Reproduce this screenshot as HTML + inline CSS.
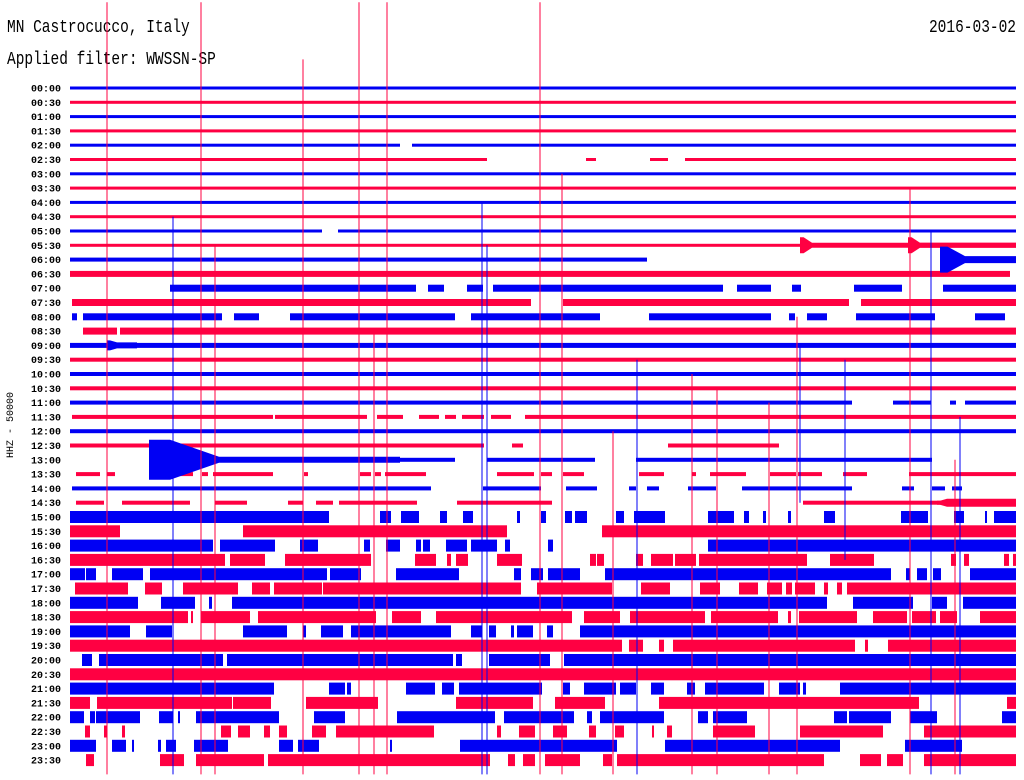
<!DOCTYPE html>
<html><head><meta charset="utf-8">
<style>
html,body{margin:0;padding:0;background:#fff;}
#wrap{position:relative;width:1024px;height:780px;overflow:hidden;background:#fff;}
.t{position:absolute;font-family:"Liberation Mono",monospace;color:#000;white-space:nowrap;}
</style></head><body>
<div id="wrap">
<div class="t" style="left:7px;top:18px;font-size:14.5px;transform:scaleY(1.25);transform-origin:0 0;">MN Castrocucco, Italy</div>
<div class="t" style="left:7px;top:50px;font-size:14.5px;transform:scaleY(1.25);transform-origin:0 0;">Applied filter: WWSSN-SP</div>
<div class="t" style="right:8px;top:18px;font-size:14.5px;transform:scaleY(1.25);transform-origin:0 0;">2016-03-02</div>
<svg id="chart" width="1024" height="780" style="position:absolute;left:0;top:0;" xmlns="http://www.w3.org/2000/svg">
<text x="0" y="0" transform="translate(13,425) rotate(-90)" text-anchor="middle" font-family="Liberation Mono, monospace" font-size="10">HHZ - 50000</text>
</svg>
</div>
<script>
// time index per row: 0..946 samples (30 minutes)
const rowLabels = ["00:00","00:30","01:00","01:30","02:00","02:30","03:00","03:30","04:00","04:30","05:00","05:30","06:00","06:30","07:00","07:30","08:00","08:30","09:00","09:30","10:00","10:30","11:00","11:30","12:00","12:30","13:00","13:30","14:00","14:30","15:00","15:30","16:00","16:30","17:00","17:30","18:00","18:30","19:00","19:30","20:00","20:30","21:00","21:30","22:00","22:30","23:00","23:30"];
const rowAmplitude = [3,3,3,3,3,3,3,3,3,3,3,3,4,6,7,7,7,7,5,4,4,4,4,4,4,4,4,4,4,4,12,12,12,12,12,12,12,12,12,12,12,12,12,12,12,12,12,12];
const rowSegments = [
[[0,946]],[[0,946]],[[0,946]],[[0,946]],
[[0,330],[342,946]],
[[0,417],[516,526],[580,598],[615,946]],
[[0,946]],[[0,946]],[[0,946]],[[0,946]],
[[0,252],[268,946]],
[[0,946]],
[[0,577],[870,946]],
[[0,940]],
[[100,346],[358,374],[397,413],[423,653],[667,701],[722,731],[784,832],[873,946]],
[[2,461],[493,779],[791,946]],
[[2,7],[13,152],[164,189],[220,385],[401,530],[579,701],[719,725],[737,757],[786,865],[905,935]],
[[13,47],[50,946]],
[[0,946]],[[0,946]],[[0,946]],[[0,946]],
[[0,782],[823,861],[880,886],[895,946]],
[[2,203],[205,297],[307,333],[349,369],[375,386],[392,414],[421,441],[455,946]],
[[0,946]],
[[0,414],[442,453],[598,709]],
[[79,385],[417,525],[566,862]],
[[6,30],[37,45],[103,123],[132,138],[143,203],[234,238],[290,301],[305,311],[315,356],[427,464],[471,482],[493,514],[569,594],[622,626],[640,676],[700,726],[728,752],[773,797],[839,946]],
[[2,361],[413,471],[496,527],[559,566],[577,589],[618,646],[672,782],[832,844],[862,875],[882,892]],
[[6,34],[52,120],[145,177],[218,233],[246,263],[269,347],[387,482],[733,946]],
[[0,259],[310,321],[331,349],[370,377],[393,403],[447,450],[471,476],[495,502],[505,517],[546,554],[564,595],[638,664],[674,679],[693,696],[718,721],[754,765],[831,858],[884,894],[915,917],[924,946]],
[[0,50],[173,437],[532,946]],
[[0,143],[150,205],[230,248],[294,300],[316,330],[346,351],[353,360],[376,397],[401,427],[435,440],[478,483],[638,946]],
[[0,155],[160,195],[215,301],[345,366],[377,381],[386,398],[427,452],[520,526],[527,534],[566,573],[581,603],[605,626],[629,737],[760,804],[881,886],[894,899],[934,939],[943,946]],
[[0,15],[16,26],[42,73],[80,257],[260,291],[326,389],[444,451],[461,473],[478,510],[535,821],[836,840],[847,857],[863,871],[900,946]],
[[5,58],[75,92],[113,168],[182,200],[204,252],[253,451],[467,542],[571,600],[630,650],[669,688],[697,712],[716,722],[725,745],[754,758],[767,772],[777,946]],
[[0,68],[91,125],[139,142],[162,757],[783,843],[862,877],[893,946]],
[[0,118],[121,123],[131,180],[188,306],[322,351],[366,502],[514,550],[560,590],[590,635],[641,708],[718,721],[729,787],[803,837],[842,866],[870,887],[910,946]],
[[0,60],[76,102],[173,217],[233,236],[251,273],[281,381],[401,412],[419,426],[441,444],[447,463],[477,483],[510,946]],
[[0,552],[559,573],[589,594],[603,785],[795,798],[818,946]],
[[12,22],[29,153],[157,383],[386,392],[419,480],[494,946]],
[[0,946]],
[[0,204],[259,275],[277,281],[336,365],[372,384],[389,472],[493,500],[514,546],[550,566],[581,594],[617,625],[635,694],[709,730],[733,736],[770,946]],
[[0,20],[27,162],[163,201],[236,308],[386,463],[485,535],[589,849],[937,946]],
[[0,14],[20,25],[26,70],[89,103],[108,110],[126,209],[244,275],[327,425],[434,504],[517,522],[530,594],[628,638],[643,677],[764,777],[779,821],[840,867],[932,946]],
[[15,20],[34,37],[52,55],[151,161],[168,180],[194,200],[209,217],[242,256],[266,364],[427,431],[449,465],[483,497],[519,526],[545,554],[582,584],[597,602],[643,685],[730,813],[854,946]],
[[0,26],[42,56],[62,64],[88,91],[96,106],[124,158],[209,223],[228,249],[320,322],[390,547],[595,770],[835,892]],
[[16,24],[90,114],[126,194],[198,420],[438,445],[453,465],[475,510],[533,542],[547,754],[790,811],[817,833],[854,946]]
];
// events: row, start index, end index, peak half-amplitude, coda half-amplitude, decay length
const eventRows = [11,11,12,18,26,29];
const eventStart = [730,838,870,37,79,867];
const eventEnd = [946,946,946,67,330,946];
const eventPeak = [8,8,13,5,20,2];
const eventCoda = [2.5,2.5,3.5,3,3,4];
const eventDecay = [12,12,25,10,70,10];
// long spikes: time index, start row, end row, color 0=red 1=blue
const spikeTime = [37,131,233,289,317,470,103,145,304,412,417,492,567,622,647,699,727,840,861,890,775,543,885,730];
const spikeRowFrom = [-6,-6,-2,-6,-6,-6,9,11,17,8,11,6,19,20,21,22,16,7,10,23,19,24,26,18];
const spikeRowTo = [48,48,48,48,48,48,48,48,48,48,48,48,48,48,48,48,48,48,48,48,33,48,48,29];
const spikeColor = [0,0,0,0,0,0,1,0,0,1,1,0,1,0,0,0,0,0,1,1,1,0,0,1];

const svg = document.getElementById('chart');
const NS = 'http://www.w3.org/2000/svg';
const X0 = 70, XW = 946, Y0 = 88, DY = 14.3;
function xScale(t){ return X0 + t * (XW / 946); }
function yScale(r){ return Y0 + r * DY; }
function rowColor(r){ return r % 2 === 0 ? '#0000f4' : '#ff0042'; }

for (let r = 0; r < rowLabels.length; r++) {
  const lab = document.createElementNS(NS, 'text');
  
  
  lab.setAttribute('x', 61); lab.setAttribute('y', yScale(r) + 3.5);
  lab.setAttribute('text-anchor', 'end');
  lab.setAttribute('font-family', 'Liberation Mono, monospace');
  lab.setAttribute('font-size', '10');
  lab.setAttribute('font-weight', 'bold');
  lab.textContent = rowLabels[r];
  svg.appendChild(lab);
  const h = rowAmplitude[r];
  for (const seg of rowSegments[r]) {
    const rc = document.createElementNS(NS, 'rect');
    
    
    const x1 = xScale(seg[0]), x2 = xScale(seg[1]);
    rc.setAttribute('x', x1); rc.setAttribute('width', Math.max(1, x2 - x1));
    rc.setAttribute('y', yScale(r) - h / 2); rc.setAttribute('height', h);
    rc.setAttribute('fill', rowColor(r));
    svg.appendChild(rc);
  }
}
for (let i = 0; i < eventRows.length; i++) {
  const r = eventRows[i], a = eventPeak[i], c = eventCoda[i];
  const x1 = xScale(eventStart[i]), x2 = xScale(eventEnd[i]), y = yScale(r);
  const xp = x1 + eventDecay[i] * 0.3;
  const xm = x1 + eventDecay[i];
  const p = document.createElementNS(NS, 'path');
  
  
  const d = 'M' + x1 + ',' + (y - a) + ' L' + xp + ',' + (y - a) + ' L' + xm + ',' + (y - c) + ' L' + x2 + ',' + (y - c) +
            ' L' + x2 + ',' + (y + c) + ' L' + xm + ',' + (y + c) + ' L' + xp + ',' + (y + a) + ' L' + x1 + ',' + (y + a) + ' Z';
  p.setAttribute('d', d);
  p.setAttribute('fill', rowColor(r));
  svg.appendChild(p);
}
for (let i = 0; i < spikeTime.length; i++) {
  const ln = document.createElementNS(NS, 'line');
  
  
  const x = xScale(spikeTime[i]);
  ln.setAttribute('x1', x); ln.setAttribute('x2', x);
  ln.setAttribute('y1', Math.max(0, yScale(spikeRowFrom[i])));
  ln.setAttribute('y2', Math.min(780, yScale(spikeRowTo[i])));
  ln.setAttribute('stroke', spikeColor[i] ? '#0000f4' : '#ff0042');
  ln.setAttribute('stroke-width', '1');
  svg.appendChild(ln);
}
</script>
</body></html>
